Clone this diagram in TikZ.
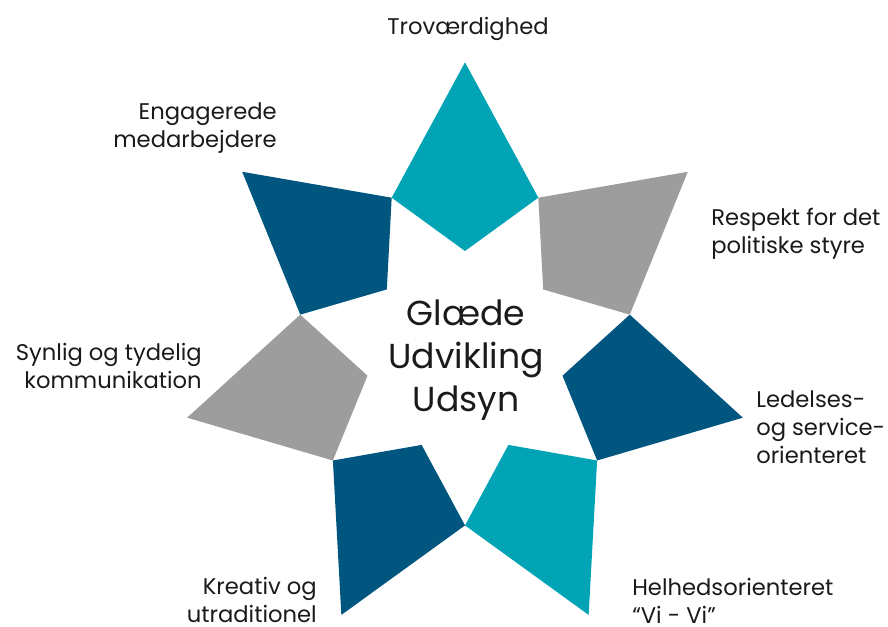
\documentclass[tikz,border=0pt]{standalone}
\usepackage{fontspec}
\setmainfont{Poppins}

\definecolor{starteal}{HTML}{00A4B5}
\definecolor{starblue}{HTML}{015680}
\definecolor{stargrey}{HTML}{9D9D9D}
\definecolor{labeltext}{HTML}{1A1A1A}

\tikzset{
    lbl/.style={font=\fontsize{17}{21}\selectfont, text=labeltext, inner sep=0pt},
    kerne/.style={font=\fontsize{26}{32}\selectfont, text=labeltext, inner sep=0pt, align=center},
}

\begin{document}
\begin{tikzpicture}[x=0.75pt, y=-0.75pt]
    \useasboundingbox (0,0) rectangle (888,626);

    % seven kites, clockwise from the top
    \begin{scope}[shift={(465,353)}, yscale=-1.02]
        \foreach \ang/\col in {90/starteal, 38.571/stargrey, -12.857/starblue,
                               -64.286/starteal, -115.714/starblue,
                               -167.143/stargrey, -218.571/starblue}
            \fill[\col] (\ang:285) -- ({\ang-25.714}:169) -- (\ang:100)
                        -- ({\ang+25.714}:169) -- cycle;
    \end{scope}

    \node[kerne, anchor=base] (midt) at (466,411) {Glæde\\Udvikling\\Udsyn};

    \node[lbl, anchor=base] (trov) at (468,34) {Troværdighed};
    \node[lbl, align=left, anchor=base west] (respekt) at (711,253) {Respekt for det\\politiske styre};
    \node[lbl, align=left, anchor=base west] (ledelse) at (756,463) {Ledelses-\\og service-\\orienteret};
    \node[lbl, align=left, anchor=base west] (helhed) at (632,623) {Helhedsorienteret\\“Vi - Vi”};
    \node[lbl, align=right, anchor=base east] (kreativ) at (317,622) {Kreativ og\\utraditionel};
    \node[lbl, align=right, anchor=base east] (synlig) at (202,388) {Synlig og tydelig\\kommunikation};
    \node[lbl, align=right, anchor=base east] (engag) at (277,147) {Engagerede\\medarbejdere};
\end{tikzpicture}
\end{document}
